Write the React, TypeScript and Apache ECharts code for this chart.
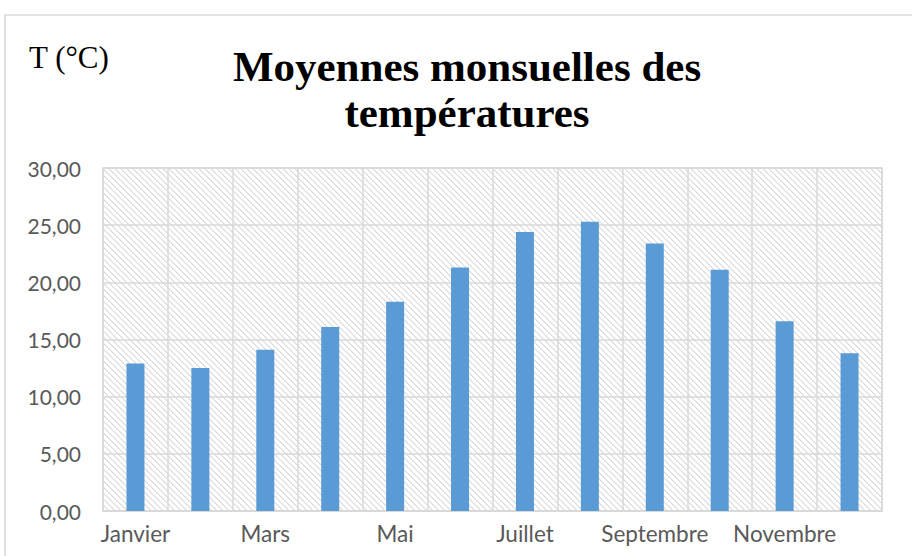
import React, { useEffect, useRef } from "react";
import * as echarts from "echarts";

const months = [
  "Janvier", "Février", "Mars", "Avril", "Mai", "Juin",
  "Juillet", "Août", "Septembre", "Octobre", "Novembre", "Décembre",
];
const temperatures = [12.9, 12.5, 14.1, 16.1, 18.3, 21.3, 24.4, 25.3, 23.4, 21.1, 16.6, 13.8];
const yTicks = { min: 0, max: 30, interval: 5 };
const titleLines = ["Moyennes monsuelles des", "températures"];
const unitLabel = "T (°C)";

function makeHatch(): string {
  const s = 6;
  const c = document.createElement("canvas");
  c.width = s;
  c.height = s;
  const ctx = c.getContext("2d")!;
  ctx.fillStyle = "#ffffff";
  ctx.fillRect(0, 0, s, s);
  for (let i = 0; i < s; i++) {
    ctx.fillStyle = "#d9d9d9";
    ctx.fillRect(i, i, 1, 1);
    ctx.fillStyle = "#ededed";
    ctx.fillRect((i + 1) % s, i, 1, 1);
  }
  return c.toDataURL();
}

export default function App() {
  const ref = useRef<HTMLDivElement>(null);
  useEffect(() => {
    if (!ref.current) return;
    const chart = echarts.init(ref.current, undefined, { renderer: "svg" });
    const hatch = makeHatch();
    const grey = "#d9d9d9";
    const labelFont = "Lato, 'Open Sans', sans-serif";
    chart.setOption({
      animation: false,
      backgroundColor: "#ffffff",
      title: {
        text: titleLines.join("\n"),
        left: 462,
        top: 38,
        textAlign: "center",
        textStyle: {
          fontFamily: "'Liberation Serif', 'Times New Roman', serif",
          fontWeight: "bold",
          fontSize: 43,
          lineHeight: 46,
          color: "#000000",
        },
      },
      graphic: [
        {
          type: "rect",
          shape: { x: 5, y: 15, width: 1200, height: 1000 },
          style: { fill: "none", stroke: grey, lineWidth: 1.5 },
          silent: true,
          z: -10,
        },
        {
          type: "text",
          x: 29,
          y: 57.5,
          style: {
            text: unitLabel,
            font: "31px 'Liberation Serif', 'Times New Roman', serif",
            fill: "#000000",
            textAlign: "left",
            textVerticalAlign: "middle",
          },
        },
      ],
      grid: {
        left: 103,
        right: 912 - 882,
        top: 168,
        bottom: 556 - 511,
        show: true,
        backgroundColor: { image: hatch, repeat: "repeat" },
        borderColor: grey,
        borderWidth: 1.5,
      },
      xAxis: {
        type: "category",
        data: months,
        boundaryGap: true,
        axisTick: { show: false },
        axisLine: { lineStyle: { color: grey, width: 1.5 } },
        splitLine: { show: true, interval: 0, lineStyle: { color: grey, width: 1.5 } },
        axisLabel: {
          interval: 1,
          margin: 11,
          color: "#595959",
          fontFamily: labelFont,
          fontSize: 22.5,
        },
      },
      yAxis: {
        type: "value",
        min: yTicks.min,
        max: yTicks.max,
        interval: yTicks.interval,
        axisLine: { show: false },
        axisTick: { show: false },
        splitLine: { lineStyle: { color: grey, width: 1.5 } },
        axisLabel: {
          margin: 22,
          color: "#595959",
          fontFamily: labelFont,
          fontSize: 21,
          formatter: (v: number) => v.toFixed(2).replace(".", ","),
        },
      },
      series: [
        {
          type: "bar",
          data: temperatures,
          barWidth: 18,
          itemStyle: { color: "#5b9bd5" },
        },
      ],
    });
    return () => chart.dispose();
  }, []);
  return (
    <div
      ref={ref}
      style={{ position: "absolute", left: 0, top: 0, width: 912, height: 556 }}
    />
  );
}
